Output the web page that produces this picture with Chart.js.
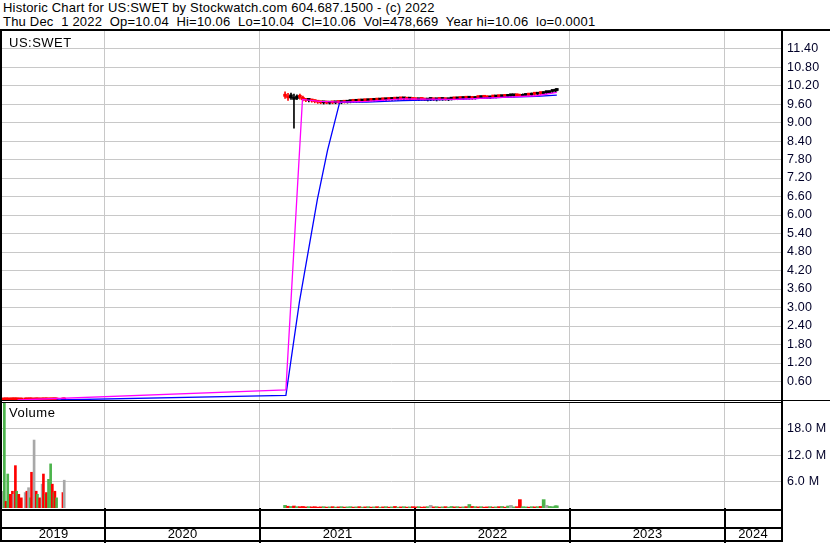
<!DOCTYPE html>
<html><head><meta charset="utf-8">
<script src="https://cdn.jsdelivr.net/npm/chart.js@4.4.1/dist/chart.umd.min.js"></script>
<style>
html,body{margin:0;padding:0;background:#fff;}
body{width:830px;height:543px;position:relative;overflow:hidden;font-family:"Liberation Sans",Arial,sans-serif;font-size:13px;letter-spacing:0.2px;color:#000;}
.t{position:absolute;white-space:pre;line-height:14px;}
.ln{position:absolute;background:#000;}
canvas{position:absolute;left:0;}
</style></head>
<body>
<canvas id="pc" width="830" height="371" style="top:31px;width:830px;height:371px"></canvas>
<canvas id="vc" width="830" height="141" style="top:402px;width:830px;height:141px"></canvas>
<div class="t" style="left:3px;top:1px">Historic Chart for US:SWET by Stockwatch.com 604.687.1500 - (c) 2022</div>
<div class="t" style="left:3px;top:15px">Thu Dec  1 2022  Op=10.04  Hi=10.06  Lo=10.04  Cl=10.06  Vol=478,669  Year hi=10.06  lo=0.0001</div>
<div class="t" style="left:9px;top:36px;letter-spacing:0.5px">US:SWET</div>
<div class="t" style="left:9px;top:406px;letter-spacing:0.5px">Volume</div>
<div class="ln" style="left:0;top:29px;width:830px;height:2px"></div>
<div class="ln" style="left:0;top:29px;width:2px;height:513px"></div>
<div class="ln" style="left:781px;top:29px;width:2px;height:513px"></div>
<div class="ln" style="left:0;top:400px;width:830px;height:1px"></div>
<div class="ln" style="left:0;top:402px;width:781px;height:1px"></div>
<div class="ln" style="left:0;top:509px;width:781px;height:2px"></div>
<div class="ln" style="left:0;top:527px;width:781px;height:2px"></div>
<div class="ln" style="left:0;top:540px;width:783px;height:2px"></div>
<script>
// ---- data ----
const dates = [
'2019-05-03','2019-05-09','2019-05-13','2019-05-17','2019-05-23','2019-05-28','2019-05-31','2019-06-04','2019-06-07','2019-06-12',
'2019-06-18','2019-06-27','2019-07-01','2019-07-05','2019-07-09','2019-07-12','2019-07-18','2019-07-23','2019-07-26','2019-07-31',
'2019-08-06','2019-08-09','2019-08-14','2019-08-16','2019-08-21','2019-08-26','2019-08-30','2019-09-03','2019-09-05','2019-09-09',
'2019-09-24','2019-09-27',
'2021-03-01','2021-03-08','2021-03-15','2021-03-22','2021-03-29','2021-04-05','2021-04-12','2021-04-19','2021-04-26','2021-05-03',
'2021-05-10','2021-05-17','2021-05-24','2021-05-31','2021-06-07','2021-06-14','2021-06-21','2021-06-28','2021-07-05','2021-07-12',
'2021-07-19','2021-07-26','2021-08-02','2021-08-09','2021-08-16','2021-08-23','2021-08-30','2021-09-06','2021-09-13','2021-09-20',
'2021-09-27','2021-10-04','2021-10-11','2021-10-18','2021-10-25','2021-11-01','2021-11-08','2021-11-15','2021-11-22','2021-11-29',
'2021-12-06','2021-12-13','2021-12-20','2021-12-27','2022-01-03','2022-01-10','2022-01-17','2022-01-24','2022-01-31','2022-02-07',
'2022-02-14','2022-02-21','2022-02-28','2022-03-07','2022-03-14','2022-03-21','2022-03-28','2022-04-04','2022-04-11','2022-04-18',
'2022-04-25','2022-05-02','2022-05-09','2022-05-16','2022-05-23','2022-05-30','2022-06-06','2022-06-13','2022-06-20','2022-06-27',
'2022-07-04','2022-07-11','2022-07-18','2022-07-25','2022-08-01','2022-08-08','2022-08-15','2022-08-22','2022-08-29','2022-09-05',
'2022-09-12','2022-09-19','2022-09-26','2022-10-03','2022-10-10','2022-10-17','2022-10-24','2022-10-31','2022-11-07','2022-11-14',
'2022-11-21','2022-11-28','2022-12-01'];
const open = [
0.0011,0.0016,0.0013,0.0015,0.0012,0.0010,0.0010,0.0008,0.0009,0.0007,
0.0006,0.0006,0.0005,0.0005,0.0006,0.0004,0.0004,0.0003,0.0004,0.0003,
0.0003,0.0002,0.0003,0.0002,0.0003,0.0004,0.0003,0.0004,0.0003,0.0004,
0.0002,0.0002,
9.92,9.85,9.80,9.75,9.78,9.86,9.82,9.74,9.72,9.73,
9.70,9.68,9.66,9.64,9.67,9.63,9.65,9.64,9.66,9.65,
9.67,9.66,9.68,9.70,9.69,9.71,9.70,9.72,9.71,9.73,
9.72,9.74,9.73,9.75,9.74,9.76,9.75,9.78,9.76,9.79,
9.77,9.78,9.76,9.77,9.75,9.74,9.76,9.75,9.73,9.75,
9.75,9.74,9.76,9.75,9.77,9.74,9.76,9.78,9.77,9.79,
9.78,9.80,9.79,9.81,9.78,9.82,9.81,9.83,9.82,9.80,
9.84,9.83,9.85,9.84,9.86,9.85,9.87,9.87,9.88,9.87,
9.85,9.88,9.90,9.89,9.93,9.92,9.95,9.94,9.97,9.97,
10.01,10.02,10.04];
const high = [
0.0011,0.0016,0.0013,0.0015,0.0012,0.0010,0.0010,0.0008,0.0009,0.0007,
0.0006,0.0006,0.0005,0.0005,0.0006,0.0004,0.0004,0.0003,0.0004,0.0003,
0.0003,0.0002,0.0003,0.0002,0.0003,0.0004,0.0003,0.0004,0.0003,0.0004,
0.0002,0.0002,
10.00,9.95,9.96,9.92,9.90,9.92,9.86,9.78,9.76,9.76,
9.74,9.72,9.70,9.69,9.70,9.68,9.69,9.68,9.70,9.69,
9.70,9.70,9.72,9.73,9.73,9.74,9.75,9.76,9.76,9.77,
9.77,9.78,9.78,9.79,9.79,9.80,9.81,9.82,9.82,9.82,
9.81,9.82,9.80,9.81,9.80,9.79,9.80,9.79,9.78,9.79,
9.79,9.78,9.80,9.80,9.80,9.79,9.81,9.82,9.82,9.83,
9.83,9.84,9.85,9.85,9.84,9.86,9.86,9.87,9.87,9.86,
9.88,9.88,9.89,9.89,9.90,9.90,9.91,9.91,9.92,9.92,
9.93,9.93,9.95,9.96,9.97,9.98,9.99,10.00,10.02,10.03,
10.05,10.06,10.06];
const low = [
0.0010,0.0015,0.0012,0.0014,0.0011,0.0009,0.0009,0.0007,0.0008,0.0006,
0.0005,0.0005,0.0004,0.0004,0.0005,0.0003,0.0003,0.0002,0.0003,0.0002,
0.0002,0.0001,0.0002,0.0001,0.0002,0.0003,0.0002,0.0003,0.0002,0.0003,
0.0001,0.0001,
9.78,9.72,9.75,8.82,9.74,9.76,9.70,9.68,9.67,9.66,
9.64,9.62,9.61,9.60,9.61,9.60,9.61,9.61,9.62,9.61,
9.63,9.63,9.64,9.65,9.66,9.66,9.67,9.68,9.68,9.69,
9.69,9.70,9.70,9.71,9.71,9.72,9.72,9.73,9.73,9.74,
9.73,9.74,9.72,9.73,9.71,9.71,9.72,9.71,9.70,9.71,
9.71,9.70,9.72,9.72,9.72,9.71,9.73,9.74,9.74,9.75,
9.75,9.76,9.76,9.75,9.76,9.78,9.78,9.79,9.78,9.78,
9.80,9.80,9.81,9.81,9.82,9.82,9.83,9.83,9.84,9.84,
9.84,9.85,9.86,9.87,9.88,9.89,9.90,9.92,9.93,9.95,
9.97,9.99,10.04];
const close = [
0.0010,0.0015,0.0012,0.0014,0.0011,0.0009,0.0009,0.0007,0.0008,0.0006,
0.0005,0.0005,0.0004,0.0004,0.0005,0.0003,0.0003,0.0002,0.0003,0.0002,
0.0002,0.0001,0.0002,0.0001,0.0002,0.0003,0.0002,0.0003,0.0002,0.0003,
0.0001,0.0001,
9.85,9.80,9.90,9.80,9.86,9.82,9.74,9.72,9.73,9.70,
9.68,9.66,9.64,9.67,9.63,9.65,9.64,9.66,9.65,9.67,
9.66,9.68,9.70,9.69,9.71,9.70,9.72,9.71,9.73,9.72,
9.74,9.73,9.75,9.74,9.76,9.75,9.78,9.76,9.79,9.77,
9.78,9.76,9.77,9.75,9.74,9.76,9.75,9.73,9.75,9.75,
9.74,9.76,9.75,9.77,9.74,9.76,9.78,9.77,9.79,9.78,
9.80,9.79,9.81,9.78,9.82,9.81,9.83,9.82,9.80,9.84,
9.83,9.85,9.84,9.86,9.85,9.87,9.87,9.88,9.87,9.85,
9.88,9.90,9.89,9.93,9.92,9.95,9.94,9.97,9.97,10.01,
10.02,10.04,10.06];
// volume in millions of shares
const volume = [
3.8,24.6,1.5,7.7,3.1,3.8,3.1,9.6,3.8,3.1,
2.3,3.5,3.8,4.6,2.3,8.1,15.4,3.8,3.1,2.3,
5.4,7.7,3.1,3.5,6.5,10.0,5.4,3.5,3.8,2.3,
3.5,6.3,
0.6,0.4,0.35,0.45,0.3,0.3,0.35,0.25,0.3,0.25,
0.3,0.2,0.25,0.3,0.2,0.25,0.3,0.2,0.25,0.3,
0.2,0.25,0.3,0.2,0.25,0.3,0.2,0.25,0.3,0.2,
0.25,0.3,0.2,0.25,0.3,0.2,0.25,0.35,0.2,0.25,
0.3,0.2,0.25,0.3,0.25,0.3,0.2,0.25,0.3,0.6,
0.25,0.3,0.2,0.25,0.3,0.2,0.35,0.25,0.3,0.2,
0.25,0.3,0.8,0.35,0.3,0.25,0.3,0.2,0.25,0.3,
0.2,0.25,0.3,0.35,0.2,0.45,0.6,0.25,0.3,1.9,
0.3,0.25,0.2,0.3,0.25,0.3,0.35,1.9,0.6,0.35,
0.3,0.5,0.478669];
// moving averages
const ma1Dates = ['2019-06-09','2021-03-03','2021-04-11','2021-05-21','2021-07-12','2021-09-09','2021-12-03','2022-04-09','2022-07-26','2022-10-14','2022-12-01'];
const ma1Values = [0.00,0.33,9.75,9.69,9.66,9.69,9.77,9.75,9.82,9.87,9.98];
const ma2Dates = ['2019-09-09','2021-03-03','2021-04-04','2021-05-16','2021-06-09','2021-07-07','2021-07-12','2021-09-09','2021-12-03','2022-04-09','2022-07-26','2022-10-14','2022-12-01'];
const ma2Values = [0.00,0.15,3.2,6.5,8.1,9.62,9.66,9.66,9.71,9.75,9.82,9.85,9.89];
// ticks
const priceTicks = [0.6,1.2,1.8,2.4,3.0,3.6,4.2,4.8,5.4,6.0,6.6,7.2,7.8,8.4,9.0,9.6,10.2,10.8,11.4];
const volumeTicks = [6,12,18];
const yearBounds = [2020,2021,2022,2023,2024];
const yearLabels = ['2019','2020','2021','2022','2023','2024'];

// ---- build ----
const toYear = s => { const [y,m,d] = s.split('-').map(Number); const a = Date.UTC(y,0,1), b = Date.UTC(y+1,0,1); return y + (Date.UTC(y,m-1,d)-a)/(b-a); };
const X_MIN = 2019.3355, X_MAX = 2024.3613;
const FONT = "'Liberation Sans', Arial, sans-serif";
Chart.defaults.font.family = FONT;
Chart.defaults.font.size = 12.5;

const barColors = dates.map((d,i)=> close[i] < open[i] ? '#ff0000' : '#000000');
const wickPts = dates.map((d,i)=>({x:toYear(d), y:[low[i], high[i]]}));
const bodyPts = dates.map((d,i)=>({x:toYear(d), y:[Math.min(open[i],close[i]), Math.max(open[i],close[i])]}));
const volColor = i => i===0 ? '#a8a8a8' : (close[i] > close[i-1] ? '#4cb44c' : (close[i] < close[i-1] ? '#ff0000' : '#a8a8a8'));
const earlyIdx = [], lateIdx = [];
dates.forEach((d,i)=> (toYear(d) < 2020 ? earlyIdx : lateIdx).push(i));
const ma1Pts = ma1Dates.map((d,i)=>({x:toYear(d), y:ma1Values[i]}));
const ma2Pts = ma2Dates.map((d,i)=>({x:toYear(d), y:ma2Values[i]}));

const zeroPad = s => { s.paddingTop = 0; s.paddingBottom = 0; s.paddingLeft = 0; s.paddingRight = 0; };
const GRID = '#c8c8c8';
const TICKCOL = '#000028';

new Chart(document.getElementById('pc'), {
  type: 'bar',
  data: { datasets: [
    { type:'line', data: ma1Pts, borderColor:'#ff00ff', borderWidth:1.3, pointRadius:0, tension:0, order:0 },
    { type:'line', data: ma2Pts, borderColor:'#0000ff', borderWidth:1.3, pointRadius:0, tension:0, order:1 },
    { type:'bar', data: bodyPts, backgroundColor: barColors, barThickness:3, minBarLength:2, grouped:false, order:2 },
    { type:'bar', data: wickPts, backgroundColor: barColors, barThickness:1, minBarLength:2, grouped:false, order:3 }
  ]},
  options: {
    responsive:false, animation:false, devicePixelRatio:1,
    layout:{ padding:{ left:2, right:0, top:0, bottom:2 } },
    plugins:{ legend:{display:false}, tooltip:{enabled:false} },
    scales:{
      x:{ type:'linear', min:X_MIN, max:X_MAX, offset:false,
          grid:{ color:GRID, lineWidth:1, drawTicks:false, offset:false },
          border:{ display:false },
          ticks:{ display:false },
          afterBuildTicks: s => { s.ticks = yearBounds.map(v=>({value:v})); },
          afterFit: s => { s.height = 0; zeroPad(s); } },
      y:{ position:'right', min:0, max:11.97,
          grid:{ color:GRID, lineWidth:1, drawTicks:false },
          border:{ display:false },
          ticks:{ padding:6, color:TICKCOL, callback: v => Number(v).toFixed(2) },
          afterBuildTicks: s => { s.ticks = priceTicks.map(v=>({value:v})); },
          afterFit: s => { s.width = 49; zeroPad(s); } }
    }
  }
});

const bandLines = {
  id:'bandLines',
  afterDraw(chart){
    const xs = chart.scales.x, ctx = chart.ctx, ca = chart.chartArea;
    ctx.save(); ctx.strokeStyle = '#000'; ctx.lineWidth = 2;
    yearBounds.forEach(v => { const px = Math.round(xs.getPixelForValue(v)); ctx.beginPath(); ctx.moveTo(px, ca.bottom); ctx.lineTo(px, chart.height); ctx.stroke(); });
    ctx.restore();
  }
};

const xTicks = yearBounds.map(v=>({value:v, lbl:''})).concat(yearLabels.map(l => {
  const y = Number(l); const a = Math.max(X_MIN, y), b = Math.min(X_MAX, y+1);
  return {value:(a+b)/2, lbl:l, mid:true};
})).sort((p,q)=>p.value-q.value);

new Chart(document.getElementById('vc'), {
  type: 'bar',
  data: { datasets: [
    { data: earlyIdx.map(i=>({x:toYear(dates[i]), y:volume[i]})), backgroundColor: earlyIdx.map(volColor), barThickness:2, grouped:false },
    { data: lateIdx.map(i=>({x:toYear(dates[i]), y:volume[i]})), backgroundColor: lateIdx.map(volColor), barThickness:3, grouped:false }
  ]},
  options: {
    responsive:false, animation:false, devicePixelRatio:1,
    layout:{ padding:{ left:2, right:0, top:1, bottom:0 } },
    plugins:{ legend:{display:false}, tooltip:{enabled:false} },
    scales:{
      x:{ type:'linear', min:X_MIN, max:X_MAX, offset:false,
          grid:{ color: c => (c.tick && c.tick.mid) ? 'rgba(0,0,0,0)' : GRID, lineWidth:1, drawTicks:false, offset:false },
          border:{ display:false },
          ticks:{ autoSkip:false, maxRotation:0, minRotation:0, padding:19, color:'#000', font:{size:13},
                  callback: (v,i,t) => t[i].lbl },
          afterBuildTicks: s => { s.ticks = xTicks.map(t=>Object.assign({}, t)); },
          afterFit: s => { s.height = 35; zeroPad(s); } },
      y:{ position:'right', min:0, max:23.8,
          grid:{ color:GRID, lineWidth:1, drawTicks:false },
          border:{ display:false },
          ticks:{ padding:6, color:TICKCOL, callback: v => Number(v).toFixed(1) + ' M' },
          afterBuildTicks: s => { s.ticks = volumeTicks.map(v=>({value:v})); },
          afterFit: s => { s.width = 49; zeroPad(s); } }
    }
  },
  plugins:[bandLines]
});
</script>
</body></html>
